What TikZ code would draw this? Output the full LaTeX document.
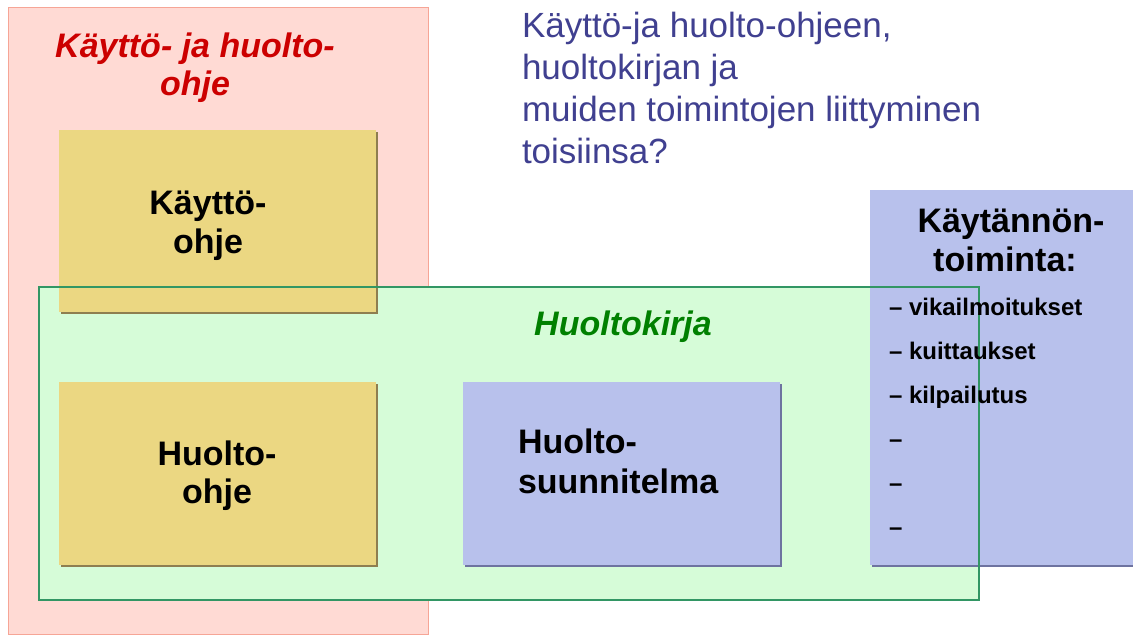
\documentclass[tikz,border=0pt]{standalone}
\usepackage{fontspec}
\setmainfont{Liberation Sans}
\definecolor{pinkfill}{RGB}{255,218,212}
\definecolor{pinkline}{RGB}{246,165,150}
\definecolor{greenfill}{RGB}{214,252,216}
\definecolor{greenline}{RGB}{50,150,100}
\definecolor{yellowfill}{RGB}{235,215,130}
\definecolor{yellowshadow}{RGB}{142,126,80}
\definecolor{bluefill}{RGB}{184,193,236}
\definecolor{blueshadow}{RGB}{110,115,160}
\definecolor{titlered}{RGB}{204,0,0}
\definecolor{titlegreen}{RGB}{0,128,0}
\definecolor{questionblue}{RGB}{64,64,144}
\tikzset{
  txt/.style={inner sep=0pt, outer sep=0pt},
  bigbold/.style={txt, font=\fontsize{34}{39}\selectfont\bfseries},
  bigital/.style={txt, font=\fontsize{34}{39}\selectfont\bfseries\itshape},
  question/.style={txt, font=\fontsize{35}{42}\selectfont, text=questionblue},
  listitem/.style={txt, font=\fontsize{24}{28}\selectfont\bfseries, anchor=base west},
}
\begin{document}
\begin{tikzpicture}[x=1pt,y=-1pt]
\clip (0,0) rectangle (1133,635);
\fill[white] (0,0) rectangle (1133,635);
% pink outer box
\draw[fill=pinkfill, draw=pinkline, line width=1pt] (8,7) rectangle (428,634);
% green fill
\fill[greenfill] (39,287) rectangle (979,600);
% yellow boxes with shadows
\fill[yellowshadow] (61,132) rectangle (378,314);
\fill[yellowfill] (59,130) rectangle (376,312);
\fill[yellowshadow] (61,384) rectangle (378,567);
\fill[yellowfill] (59,382) rectangle (376,565);
% blue boxes
\fill[blueshadow] (465,384) rectangle (782,567);
\fill[bluefill] (463,382) rectangle (780,565);
\fill[blueshadow] (872,192) rectangle (1140,567);
\fill[bluefill] (870,190) rectangle (1140,565);
% green outline on top
\draw[greenline, line width=2pt] (39,287) rectangle (979,600);
% texts
\node[bigital, text=titlered, anchor=base] (t1) at (195,57) {Käyttö- ja huolto-};
\node[bigital, text=titlered, anchor=base] (t2) at (195,95) {ohje};
\node[question, anchor=base west] (q1) at (522,37.7) {Käyttö-ja huolto-ohjeen,};
\node[question, anchor=base west] (q2) at (522,79.5) {huoltokirjan ja};
\node[question, anchor=base west] (q3) at (522,121.3) {muiden toimintojen liittyminen};
\node[question, anchor=base west] (q4) at (522,163) {toisiinsa?};
\node[bigbold, anchor=base] (k1) at (208,214) {Käyttö-};
\node[bigbold, anchor=base] (k2) at (208,253) {ohje};
\node[bigital, text=titlegreen, anchor=base] (hk) at (623,335) {Huoltokirja};
\node[bigbold, anchor=base] (h1) at (217,465) {Huolto-};
\node[bigbold, anchor=base] (h2) at (217,503) {ohje};
\node[bigbold, anchor=base west] (s1) at (518,453) {Huolto-};
\node[bigbold, anchor=base west] (s2) at (518,493) {suunnitelma};
\node[bigbold, anchor=base] (p1) at (1011,232) {Käytännön-};
\node[bigbold, anchor=base] (p2) at (1005,271) {toiminta:};
\node[listitem] (l1) at (889,315) {– vikailmoitukset};
\node[listitem] (l2) at (889,359) {– kuittaukset};
\node[listitem] (l3) at (889,403) {– kilpailutus};
\node[listitem] (l4) at (889,447) {–};
\node[listitem] (l5) at (889,491) {–};
\node[listitem] (l6) at (889,535) {–};
\end{tikzpicture}
\end{document}
